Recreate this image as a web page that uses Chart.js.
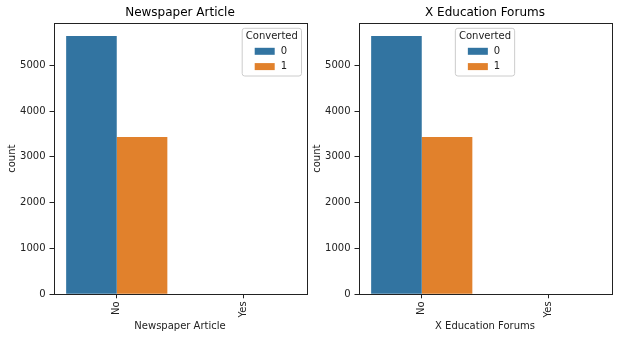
<!DOCTYPE html>
<html>
<head>
<meta charset="utf-8">
<script src="https://cdn.jsdelivr.net/npm/chart.js@4.4.1/dist/chart.umd.min.js"></script>
<style>
  html, body { margin:0; padding:0; background:#fff; }
  body { width:618px; height:340px; position:relative; overflow:hidden; }
  canvas { position:absolute; top:0; }
</style>
</head>
<body>
<canvas id="c1" width="309" height="340" style="left:0px"></canvas>
<canvas id="c2" width="309" height="340" style="left:305px"></canvas>
<script>
// ---- data ----
const categories = ['No', 'Yes'];
const seriesLabels = ['0', '1'];
const newspaperConv0 = [5640, 0];
const newspaperConv1 = [3435, 0];
const forumsConv0 = [5640, 0];
const forumsConv1 = [3435, 0];
const yTicks = [0, 1000, 2000, 3000, 4000, 5000];
const titles = ['Newspaper Article', 'X Education Forums'];
const legendTitle = 'Converted';

const COLORS = ['#3274a1', '#e1812c'];
const FONT = 'DejaVu Sans';
const TXT = '#222';

const framePlugin = {
  id: 'frame',
  afterDatasetsDraw(chart) {
    const {ctx, chartArea: a} = chart;
    ctx.save();
    ctx.strokeStyle = '#222';
    ctx.lineWidth = 1;
    ctx.strokeRect(Math.round(a.left) + 0.5, Math.round(a.top) + 0.5,
                   Math.round(a.right - a.left), Math.round(a.bottom - a.top));
    ctx.restore();
  }
};

const legendPlugin = {
  id: 'mplLegend',
  afterDraw(chart, args, opts) {
    const {ctx, chartArea: a} = chart;
    const w = 59.3, h = 47.7;
    let left;
    if (opts.loc === 'center') left = (a.left + a.right) / 2 - w / 2;
    else left = a.right - 5 - w;
    const top = a.top + 5.3;
    ctx.save();
    ctx.beginPath();
    const r = 2.5;
    ctx.moveTo(left + r, top);
    ctx.arcTo(left + w, top, left + w, top + h, r);
    ctx.arcTo(left + w, top + h, left, top + h, r);
    ctx.arcTo(left, top + h, left, top, r);
    ctx.arcTo(left, top, left + w, top, r);
    ctx.closePath();
    ctx.fillStyle = 'rgba(255,255,255,0.8)';
    ctx.fill();
    ctx.strokeStyle = '#cccccc';
    ctx.lineWidth = 1;
    ctx.stroke();
    ctx.fillStyle = TXT;
    ctx.font = '10px "' + FONT + '"';
    ctx.textAlign = 'center';
    ctx.textBaseline = 'middle';
    ctx.fillText(legendTitle, left + w / 2, top + 8);
    const rows = [top + 23, top + 38.3];
    chart.data.datasets.forEach((ds, i) => {
      ctx.fillStyle = ds.backgroundColor;
      ctx.fillRect(left + 12.5, rows[i] - 3.5, 20, 7);
      ctx.fillStyle = TXT;
      ctx.textAlign = 'left';
      ctx.fillText(ds.label, left + 38.5, rows[i]);
    });
    ctx.restore();
  }
};

function makeChart(id, title, d0, d1, legendLoc) {
  const ymax = Math.max(...d0, ...d1) * 1.05;
  return new Chart(document.getElementById(id), {
    type: 'bar',
    data: {
      labels: categories,
      datasets: [
        { label: seriesLabels[0], data: d0, backgroundColor: COLORS[0], borderWidth: 0,
          categoryPercentage: 0.8, barPercentage: 1.0 },
        { label: seriesLabels[1], data: d1, backgroundColor: COLORS[1], borderWidth: 0,
          categoryPercentage: 0.8, barPercentage: 1.0 }
      ]
    },
    options: {
      responsive: false,
      animation: false,
      devicePixelRatio: 1,
      layout: { padding: { left: 0, right: 2.5, top: 0, bottom: 0 } },
      plugins: {
        legend: { display: false },
        tooltip: { enabled: false },
        title: {
          display: true, text: title, fullSize: false, color: '#000',
          font: { family: FONT, size: 12, weight: 'normal', lineHeight: 1.2 },
          padding: { top: 6, bottom: 2.6 }
        },
        mplLegend: { loc: legendLoc }
      },
      scales: {
        x: {
          type: 'category',
          offset: true,
          grid: { display: true, drawOnChartArea: false, drawTicks: true, tickLength: 4,
                  offset: false, color: '#222', lineWidth: 1 },
          border: { display: false },
          ticks: { color: TXT, font: { family: FONT, size: 10 }, minRotation: 90, maxRotation: 90,
                   autoSkip: false, padding: 3 },
          title: { display: true, text: title, color: TXT,
                   font: { family: FONT, size: 10, lineHeight: 1.2 },
                   padding: { top: 0, bottom: 7.3 } },
          afterFit(s) { s.height = 45.7; }
        },
        y: {
          min: 0, max: ymax,
          grid: { display: true, drawOnChartArea: false, drawTicks: true, tickLength: 4,
                  color: '#222', lineWidth: 1 },
          border: { display: false },
          ticks: { color: TXT, font: { family: FONT, size: 10 }, padding: 4,
                   callback: v => String(v) },
          afterBuildTicks(s) { s.ticks = yTicks.map(v => ({ value: v })); },
          title: { display: true, text: 'count', color: TXT,
                   font: { family: FONT, size: 10, lineHeight: 1.2 },
                   padding: { top: 6, bottom: 0 } },
          afterFit(s) { s.width = 53.5; }
        }
      }
    },
    plugins: [framePlugin, legendPlugin]
  });
}

makeChart('c1', titles[0], newspaperConv0, newspaperConv1, 'right');
makeChart('c2', titles[1], forumsConv0, forumsConv1, 'center');
</script>
</body>
</html>
